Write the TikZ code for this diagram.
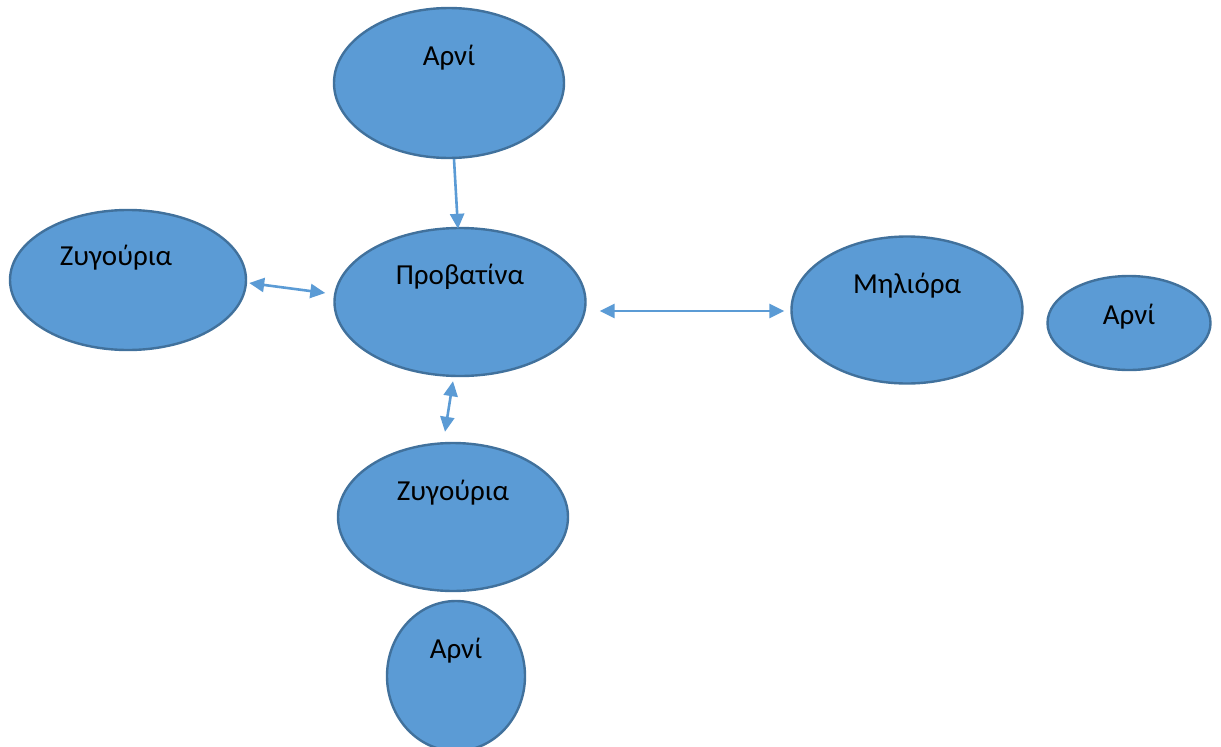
\documentclass[tikz,border=0pt]{standalone}
\usepackage{fontspec}
\setmainfont{Carlito}
\usetikzlibrary{shapes.geometric,arrows.meta,calc}
\definecolor{fillblue}{HTML}{5B9BD5}
\definecolor{edgeblue}{HTML}{41719C}
\tikzset{
  bubble/.style={ellipse,draw=edgeblue,fill=fillblue,line width=2.4pt,inner sep=0pt},
  lbl/.style={anchor=center,font=\fontsize{29}{34}\selectfont,text=black,inner sep=0pt},
  link/.style={draw=fillblue,line width=2.6pt,-{Triangle[length=15pt,width=14pt]}},
  dlink/.style={draw=fillblue,line width=2.6pt,{Triangle[length=15pt,width=14pt]}-{Triangle[length=15pt,width=14pt]}}
}
\begin{document}
\begin{tikzpicture}[x=1pt,y=-1pt]
\useasboundingbox (0,0) rectangle (1221,747);
\node[bubble,minimum width=230pt,minimum height=150pt,label={[lbl,yshift=25pt]center:Αρνί}] (a1) at (449,83) {};
\node[bubble,minimum width=236pt,minimum height=140pt,label={[lbl,yshift=22pt,xshift=-12pt]center:Ζυγούρια}] (z1) at (128,280) {};
\node[bubble,minimum width=251pt,minimum height=148pt,label={[lbl,yshift=25pt]center:Προβατίνα}] (prov) at (460,302) {};
\node[bubble,minimum width=231pt,minimum height=147pt,label={[lbl,yshift=24pt]center:Μηλιόρα}] (mhl) at (907,310) {};
\node[bubble,minimum width=163pt,minimum height=94pt,label={[lbl,yshift=6pt]center:Αρνί}] (a2) at (1129,323) {};
\node[bubble,minimum width=230pt,minimum height=148pt,label={[lbl,yshift=24pt]center:Ζυγούρια}] (z2) at (453,517) {};
\node[bubble,minimum width=138pt,minimum height=150pt,label={[lbl,yshift=25pt]center:Αρνί}] (a3) at (456,676) {};
\draw[link] ($(a1.south)+(5,0)$) -- ($(prov.north)+(-2,2)$);
\draw[dlink] ($(z1.east)+(2,3)$) -- ($(prov.west)+(-8,-9)$);
\draw[dlink] ($(prov.east)+(13,9)$) -- ($(mhl.west)+(-6,1)$);
\draw[dlink] ($(prov.south)+(-7,4)$) -- ($(z2.north)+(-8,-10)$);
\end{tikzpicture}
\end{document}
